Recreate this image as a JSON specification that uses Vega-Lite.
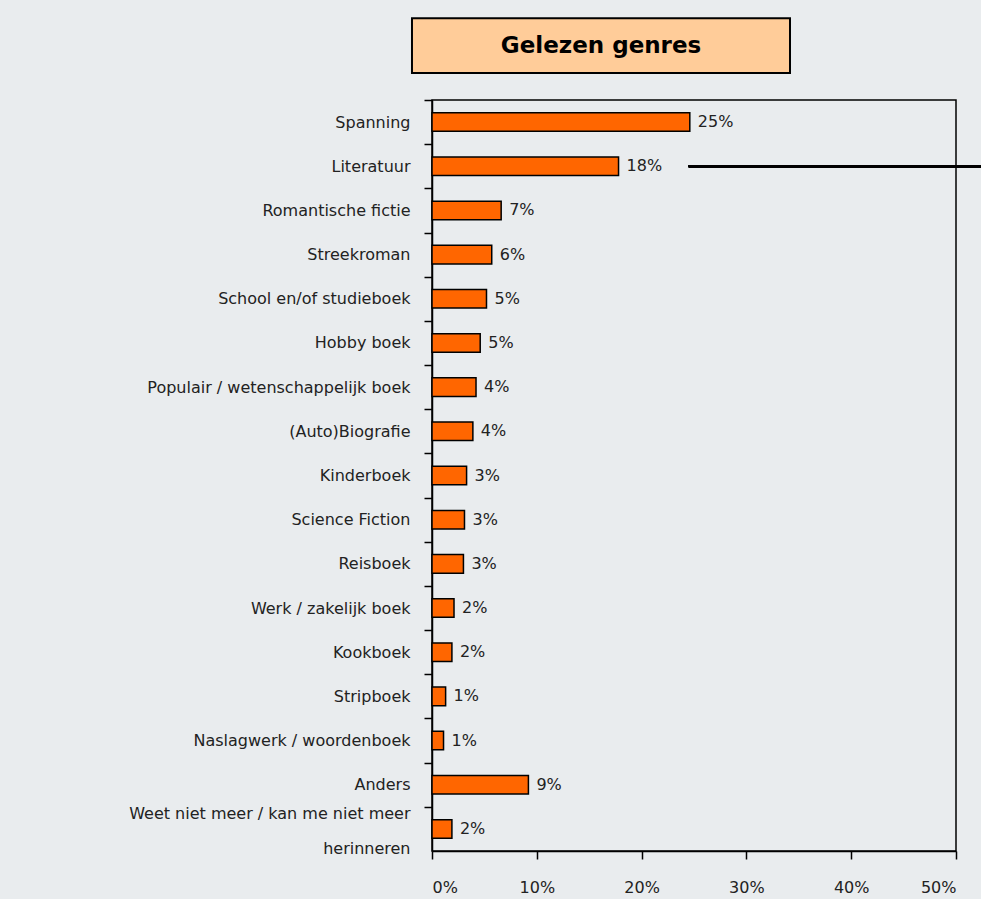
{
  "$schema": "https://vega.github.io/schema/vega-lite/v6.json",
  "width": 524,
  "height": 751,
  "autosize": {"type": "none"},
  "padding": {"left": 432, "top": 100, "right": 25, "bottom": 48},
  "background": "#e9ecee",
  "config": {
    "view": {"stroke": "#000000", "strokeWidth": 1.5, "fill": null},
    "font": "DejaVu Sans"
  },
  "data": {
    "values": [
      {"genre": "Spanning", "share": 0.246},
      {"genre": "Literatuur", "share": 0.178},
      {"genre": "Romantische fictie", "share": 0.066},
      {"genre": "Streekroman", "share": 0.057},
      {"genre": "School en/of studieboek", "share": 0.052},
      {"genre": "Hobby boek", "share": 0.046},
      {"genre": "Populair / wetenschappelijk boek", "share": 0.042},
      {"genre": "(Auto)Biografie", "share": 0.039},
      {"genre": "Kinderboek", "share": 0.033},
      {"genre": "Science Fiction", "share": 0.031},
      {"genre": "Reisboek", "share": 0.030},
      {"genre": "Werk / zakelijk boek", "share": 0.021},
      {"genre": "Kookboek", "share": 0.019},
      {"genre": "Stripboek", "share": 0.013},
      {"genre": "Naslagwerk / woordenboek", "share": 0.011},
      {"genre": "Anders", "share": 0.092},
      {"genre": "Weet niet meer / kan me niet meer herinneren", "share": 0.019}
    ]
  },
  "layer": [
    {
      "encoding": {
        "y": {
          "field": "genre",
          "type": "nominal",
          "sort": null,
          "scale": {
            "domain": ["Spanning", "Literatuur", "Romantische fictie", "Streekroman", "School en/of studieboek", "Hobby boek", "Populair / wetenschappelijk boek", "(Auto)Biografie", "Kinderboek", "Science Fiction", "Reisboek", "Werk / zakelijk boek", "Kookboek", "Stripboek", "Naslagwerk / woordenboek", "Anders", "Weet niet meer / kan me niet meer herinneren"],
            "paddingInner": 0.58,
            "paddingOuter": 0.29
          },
          "axis": {
            "title": null,
            "tickOffset": -22.09,
            "domainColor": "#000000",
            "domainWidth": 1.5,
            "tickColor": "#000000",
            "tickWidth": 1.5,
            "tickSize": 8,
            "labelPadding": 14,
            "labelFontSize": 16,
            "labelColor": "#222222",
            "labelLimit": 500,
            "labelLineHeight": 35,
            "labelOffset": {"condition": {"test": "datum.value == 'Weet niet meer / kan me niet meer herinneren'", "value": 7}, "value": 22.09},
            "labelExpr": "datum.value == 'Weet niet meer / kan me niet meer herinneren' ? ['Weet niet meer / kan me niet meer', 'herinneren'] : datum.value"
          }
        },
        "x": {
          "field": "share",
          "type": "quantitative",
          "scale": {"domain": [0, 0.5], "nice": false},
          "axis": {
            "title": null,
            "format": ".0%",
            "values": [0, 0.1, 0.2, 0.3, 0.4, 0.5],
            "grid": false,
            "domainColor": "#000000",
            "domainWidth": 1.5,
            "tickColor": "#000000",
            "tickWidth": 1.5,
            "tickSize": 8,
            "labelPadding": 20,
            "labelFontSize": 16,
            "labelColor": "#222222"
          }
        }
      },
      "layer": [
        {
          "mark": {"type": "bar", "fill": "#ff6600", "stroke": "#000000", "strokeWidth": 1.5}
        },
        {
          "mark": {"type": "text", "align": "left", "dx": 8, "fontSize": 16, "color": "#222222"},
          "encoding": {"text": {"field": "share", "format": ".0%"}}
        },
        {
          "mark": {"type": "rule", "color": "#000000", "strokeWidth": 2},
          "encoding": {
            "y": {"datum": "Literatuur", "type": "nominal"},
            "x": {"datum": 0.245},
            "x2": {"datum": 0.53}
          }
        }
      ]
    },
    {
      "data": {"values": [{"title": "Gelezen genres", "x0": -0.0191, "x1": 0.3416, "y0": 1.036, "y1": 1.109, "xm": 0.1613, "ym": 1.072}]},
      "layer": [
        {
          "mark": {"type": "rect", "fill": "#ffcc99", "stroke": "#000000", "strokeWidth": 2},
          "encoding": {
            "x": {"field": "x0", "type": "quantitative"},
            "x2": {"field": "x1"},
            "y": {"field": "y0", "type": "quantitative", "scale": {"domain": [0, 1], "nice": false, "zero": false}, "axis": null},
            "y2": {"field": "y1"}
          }
        },
        {
          "mark": {"type": "text", "fontSize": 23, "fontWeight": "bold", "color": "#000000", "align": "center", "baseline": "middle"},
          "encoding": {
            "x": {"field": "xm", "type": "quantitative"},
            "y": {"field": "ym", "type": "quantitative", "scale": {"domain": [0, 1], "nice": false, "zero": false}, "axis": null},
            "text": {"field": "title"}
          }
        }
      ]
    }
  ],
  "resolve": {"scale": {"y": "independent"}}
}
